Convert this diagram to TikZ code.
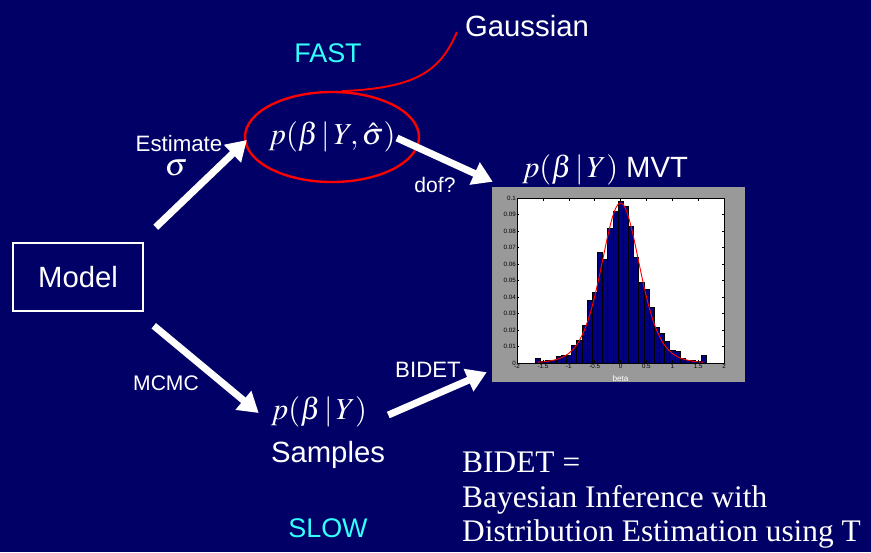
\documentclass[tikz,border=0pt]{standalone}
\usepackage{mathptmx}
\usepackage[no-math]{fontspec}
\setmainfont{Liberation Sans}
\newfontfamily\slideserif{Liberation Serif}
\usepackage{xcolor}
\definecolor{slidenavy}{HTML}{000066}
\definecolor{slidecyan}{HTML}{33FFFF}
\definecolor{barblue}{HTML}{000080}
\definecolor{plotgray}{HTML}{999999}
\usepackage{tikz}
\usetikzlibrary{shapes.geometric,arrows.meta,positioning}

\begin{document}
\begin{tikzpicture}[x=0.03cm, y=-0.03cm,
      txt/.style={text=white, inner sep=0pt},
      speed/.style={text=slidecyan, inner sep=0pt, font=\fontsize{23}{28}\selectfont},
      bigarrow/.style={white, line width=6pt, -{Triangle[length=17pt,width=20pt]}},
      bar/.style={draw=black, fill=barblue, line width=0.3pt},
      tick/.style={font=\fontsize{5.3}{6}\selectfont, inner sep=0.8pt}
    ]
    \fill[slidenavy] (0,0) rectangle (871,552);
    \useasboundingbox (0,0) rectangle (871,552);

    \node[draw=white, line width=1.3pt, minimum width=3.9cm, minimum height=2.04cm, text=white, font=\fontsize{25}{30}\selectfont] (model) at (78,277) {Model};
    \node[ellipse, draw=red, line width=2pt, minimum width=5.22cm, minimum height=2.7cm, inner sep=-10pt, text=white, font=\fontsize{26}{32}\selectfont] (fast) at (332,137) {$p(\beta\,|\,Y,\hat{\sigma})$};
    \node[speed] (fastlbl) at (328,53) {FAST};
    \node[speed] (slowlbl) at (328,528) {SLOW};
    \node[txt, font=\fontsize{25}{30}\selectfont] (gauss) at (527,26) {Gaussian};
    \node[txt, font=\fontsize{19}{23}\selectfont] (est) at (179,144) {Estimate};
    \node[txt, anchor=base, font=\fontsize{27}{32}\selectfont] (estsig) at (176,175) {$\sigma$};
    \node[txt, font=\fontsize{18}{22}\selectfont] (dof) at (435,185) {dof?};
    \node[txt, font=\fontsize{25}{30}\selectfont] (mvt) at (605,170) {{\fontsize{26}{32}\selectfont$p(\beta\,|\,Y)$} MVT};
    \node[txt, font=\fontsize{18}{22}\selectfont] (mcmc) at (166,383) {MCMC};
    \node[txt, font=\fontsize{19}{23}\selectfont] (bidet) at (428,370) {BIDET};
    \node[txt, font=\fontsize{26}{32}\selectfont] (sampbeta) at (319,412) {$p(\beta\,|\,Y)$};
    \node[txt, font=\fontsize{25}{30}\selectfont] (samples) at (328,455) {Samples};
    \node[txt, anchor=north west, align=left, font=\slideserif\fontsize{26.8}{29.5}\selectfont] (acro) at (462,452) {BIDET =\\Bayesian Inference with\\Distribution Estimation using T};

    % histogram of the samples
    \node[fill=plotgray, minimum width=7.59cm, minimum height=5.85cm, inner sep=0pt] (hist) at (618.5,284.5) {};
    \begin{scope}[shift={(620.5,363)}, x=1.5525cm, y=49.5cm]
      \fill[white] (-2,0) rectangle (2,0.1);
      \foreach \v/\h in {-1.6/0.003,-1.5/0.001,-1.4/0.002,-1.3/0.002,-1.2/0.004,-1.1/0.005,-1.0/0.005,
          -0.9/0.011,-0.8/0.014,-0.7/0.023,-0.6/0.038,-0.5/0.043,-0.4/0.067,-0.3/0.063,-0.2/0.082,-0.1/0.092,
          0.0/0.098,0.1/0.095,0.2/0.083,0.3/0.064,0.4/0.049,0.5/0.045,0.6/0.034,0.7/0.022,0.8/0.018,
          0.9/0.013,1.0/0.008,1.1/0.007,1.2/0.003,1.3/0.002,1.4/0.002,1.5/0.001,1.6/0.005}
        \draw[bar] (\v-0.05,0) rectangle (\v+0.05,\h);
      \draw[red, line width=0.8pt, domain=-1.6:1.6, samples=90] plot (\x, {0.097*exp(-4.5*ln(1+\x*\x/1.155))});
      \draw[black, line width=0.4pt] (-2,0) rectangle (2,0.1);
      \foreach \v in {-2,-1.5,-1,-0.5,0,0.5,1,1.5,2} {
        \draw[line width=0.3pt] (\v,0) -- ++(0,0.002) (\v,0.1) -- ++(0,-0.002);
        \node[tick, below] at (\v,0) {\v};
      }
      \foreach \h in {0,0.01,0.02,0.03,0.04,0.05,0.06,0.07,0.08,0.09,0.1} {
        \draw[line width=0.3pt] (-2,\h) -- ++(0.04,0) (2,\h) -- ++(-0.04,0);
        \node[tick, left] at (-2,\h) {\h};
      }
      \node[tick, text=white, font=\fontsize{7}{8}\selectfont] (betalbl) at (0,-0.0095) {beta};
    \end{scope}

    \coordinate (esttail) at ([shift={(12,-15)}]model.north east);
    \coordinate (doftail) at ([shift={(65,1)}]fast.center);
    \coordinate (mcmctail) at ([shift={(10,14)}]model.south east);
    \coordinate (bidettail) at ([shift={(21,3)}]sampbeta.east);
    \coordinate (gausstip) at ([shift={(-8,6)}]gauss.west);

    \draw[bigarrow] (esttail) -- ([shift={(3,3)}]fast.west);
    \draw[bigarrow] (doftail) -- ([shift={(1,-5)}]hist.north west);
    \draw[bigarrow] (mcmctail) -- ([shift={(-12,1)}]sampbeta.west);
    \draw[bigarrow] (bidettail) -- ([shift={(-5,-10)}]hist.south west);
    \draw[red, line width=1.6pt] (fast.78) .. controls (415,88) and (440,72) .. (gausstip);
  \end{tikzpicture}
\end{document}
